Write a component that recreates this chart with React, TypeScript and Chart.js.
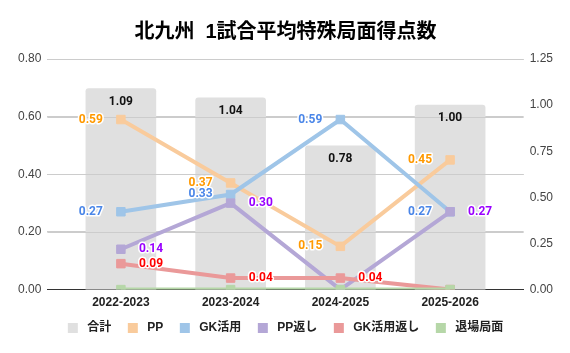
import React, { useEffect, useRef } from 'react';
import { Chart, registerables } from 'chart.js';

Chart.register(...registerables);

// ---- data ----
const chartTitle = '北九州  1試合平均特殊局面得点数';
const categories = ['2022-2023', '2023-2024', '2024-2025', '2025-2026'];
const totalValues = [1.09, 1.04, 0.78, 1.0];
const ppValues = [0.59, 0.37, 0.15, 0.45];
const gkValues = [0.27, 0.33, 0.59, 0.27];
const ppReturnValues = [0.14, 0.3, 0.0, 0.27];
const gkReturnValues = [0.09, 0.04, 0.04, 0.0];
const ejectionValues = [0, 0, 0, 0];
const leftTicks = [0, 0.2, 0.4, 0.6, 0.8];
const rightTicks = [0, 0.25, 0.5, 0.75, 1.0, 1.25];

const FONT = 'Arial, "Liberation Sans", "Noto Sans CJK JP", sans-serif';
const LABEL_FONT = 'bold 12px Roboto, Arial, "Noto Sans CJK JP", sans-serif';

const toPoints = (vals: number[]) => vals.map((y, i) => ({ x: i, y }));

const lineDs = (label: string, vals: number[], color: string, order: number, labelColor: string | null, side: string) => ({
  type: 'line' as const,
  label,
  data: toPoints(vals),
  yAxisID: 'y',
  borderColor: color,
  backgroundColor: color,
  borderWidth: 4,
  pointStyle: 'rect',
  pointRadius: 6,
  pointBorderWidth: 1,
  pointBorderColor: color,
  pointBackgroundColor: color,
  tension: 0,
  clip: 0,
  order,
  valueLabel: labelColor ? { color: labelColor, side, halo: true } : null,
});

const gridOverBarsPlugin = {
  id: 'gridOverBars',
  afterDatasetDraw(chart: any, args: any) {
    if (args.index !== 0) return;
    const { ctx, chartArea } = chart;
    const ys = chart.scales.y;
    ctx.save();
    ctx.strokeStyle = '#cccccc';
    ctx.lineWidth = 1;
    ys.ticks.forEach((t: any) => {
      if (t.value === 0) return;
      const y = Math.round(ys.getPixelForValue(t.value)) + 0.5;
      ctx.beginPath();
      ctx.moveTo(chartArea.left, y);
      ctx.lineTo(chartArea.right, y);
      ctx.stroke();
    });
    ctx.restore();
  },
};

const valueLabelPlugin = {
  id: 'valueLabels',
  afterDatasetsDraw(chart: any) {
    const ctx = chart.ctx;
    chart.data.datasets.forEach((ds: any, di: number) => {
      const lab = ds.valueLabel;
      if (!lab) return;
      const meta = chart.getDatasetMeta(di);
      meta.data.forEach((el: any, i: number) => {
        const v = ds.data[i].y;
        if (!v) return;
        const text = v.toFixed(2);
        ctx.save();
        ctx.font = LABEL_FONT;
        ctx.textBaseline = 'middle';
        let x = el.x;
        let y = el.y;
        if (lab.side === 'top') {
          y = el.y + 13;
          ctx.textAlign = 'center';
        } else if (lab.side === 'left') {
          x = el.x - 18;
          ctx.textAlign = 'right';
        } else {
          x = el.x + 18;
          ctx.textAlign = 'left';
        }
        if (lab.halo) {
          ctx.strokeStyle = '#ffffff';
          ctx.lineWidth = 3;
          ctx.lineJoin = 'round';
          ctx.strokeText(text, x, y);
        }
        ctx.fillStyle = lab.color;
        ctx.fillText(text, x, y);
        ctx.restore();
      });
    });
  },
};

export default function App() {
  const ref = useRef<HTMLCanvasElement>(null);

  useEffect(() => {
    const datasets: any[] = [
      {
        type: 'bar',
        label: '合計',
        data: toPoints(totalValues),
        yAxisID: 'y1',
        backgroundColor: '#e0e0e0',
        borderColor: '#e0e0e0',
        borderWidth: 0,
        borderRadius: 3,
        borderSkipped: 'bottom',
        barThickness: 70,
        order: 10,
        valueLabel: { color: '#111111', side: 'top', halo: false },
      },
      lineDs('PP', ppValues, '#f9cb9c', 5, '#ff9900', 'left'),
      lineDs('GK活用', gkValues, '#9fc5e8', 4, '#4a86e8', 'left'),
      lineDs('PP返し', ppReturnValues, '#b4a7d6', 3, '#9900ff', 'right'),
      lineDs('GK活用返し', gkReturnValues, '#ea9999', 2, '#ff0000', 'right'),
      lineDs('退場局面', ejectionValues, '#b6d7a8', 1, null, 'right'),
    ];

    const chart = new Chart(ref.current as HTMLCanvasElement, {
      type: 'bar',
      data: { datasets },
      plugins: [gridOverBarsPlugin, valueLabelPlugin],
      options: {
        responsive: false,
        animation: false,
        events: [],
        layout: { padding: { left: 12, right: 11, top: 0, bottom: 9 } },
        scales: {
          x: {
            type: 'linear',
            min: -0.67,
            max: 3.67,
            offset: false,
            afterBuildTicks: (scale: any) => {
              scale.ticks = categories.map((_, i) => ({ value: i }));
            },
            afterFit: (scale: any) => {
              scale.height -= 4;
            },
            ticks: {
              callback: (v: any) => categories[v] ?? '',
              font: { family: FONT, size: 12, weight: 'bold' },
              color: '#222222',
              padding: 6,
              maxRotation: 0,
              autoSkip: false,
            },
            grid: { display: false, drawTicks: false },
            border: { display: true, color: '#333333', width: 1 },
          },
          y: {
            type: 'linear',
            position: 'left',
            min: 0,
            max: 0.8,
            afterBuildTicks: (scale: any) => {
              scale.ticks = leftTicks.map((v) => ({ value: v }));
            },
            ticks: {
              callback: (v: any) => Number(v).toFixed(2),
              font: { family: FONT, size: 12 },
              color: '#444444',
              padding: 6,
            },
            grid: { color: '#cccccc', drawTicks: false },
            border: { display: false },
          },
          y1: {
            type: 'linear',
            position: 'right',
            min: 0,
            max: 1.25,
            afterBuildTicks: (scale: any) => {
              scale.ticks = rightTicks.map((v) => ({ value: v }));
            },
            ticks: {
              callback: (v: any) => Number(v).toFixed(2),
              font: { family: FONT, size: 12 },
              color: '#444444',
              padding: 6,
            },
            grid: { display: false, drawTicks: false },
            border: { display: false },
          },
        },
        plugins: {
          title: {
            display: true,
            text: chartTitle,
            font: { family: FONT, size: 20, weight: 'bold' },
            color: '#000000',
            padding: { top: 20, bottom: 15 },
          },
          legend: {
            display: true,
            position: 'bottom',
            labels: {
              boxWidth: 10,
              boxHeight: 10,
              padding: 10,
              color: '#222222',
              font: { family: FONT, size: 12, weight: 'bold' },
              sort: (a: any, b: any) => a.datasetIndex - b.datasetIndex,
              generateLabels: (chart: any) => {
                const items = Chart.defaults.plugins.legend.labels.generateLabels(chart);
                items.sort((a: any, b: any) => a.datasetIndex - b.datasetIndex);
                return items.map((it: any, idx: number) => {
                  const color = chart.data.datasets[it.datasetIndex].borderColor;
                  return {
                    ...it,
                    text: ' ' + it.text + (idx < items.length - 1 ? '  ' : ''),
                    fillStyle: color,
                    strokeStyle: color,
                    lineWidth: 0,
                  };
                });
              },
            },
          },
          tooltip: { enabled: false },
        },
      } as any,
    });
    return () => chart.destroy();
  }, []);

  return (
    <div style={{ position: 'fixed', left: 0, top: 0, width: 570, height: 353, background: '#ffffff' }}>
      <canvas ref={ref} width={570} height={353} style={{ width: 570, height: 353, display: 'block' }} />
    </div>
  );
}
